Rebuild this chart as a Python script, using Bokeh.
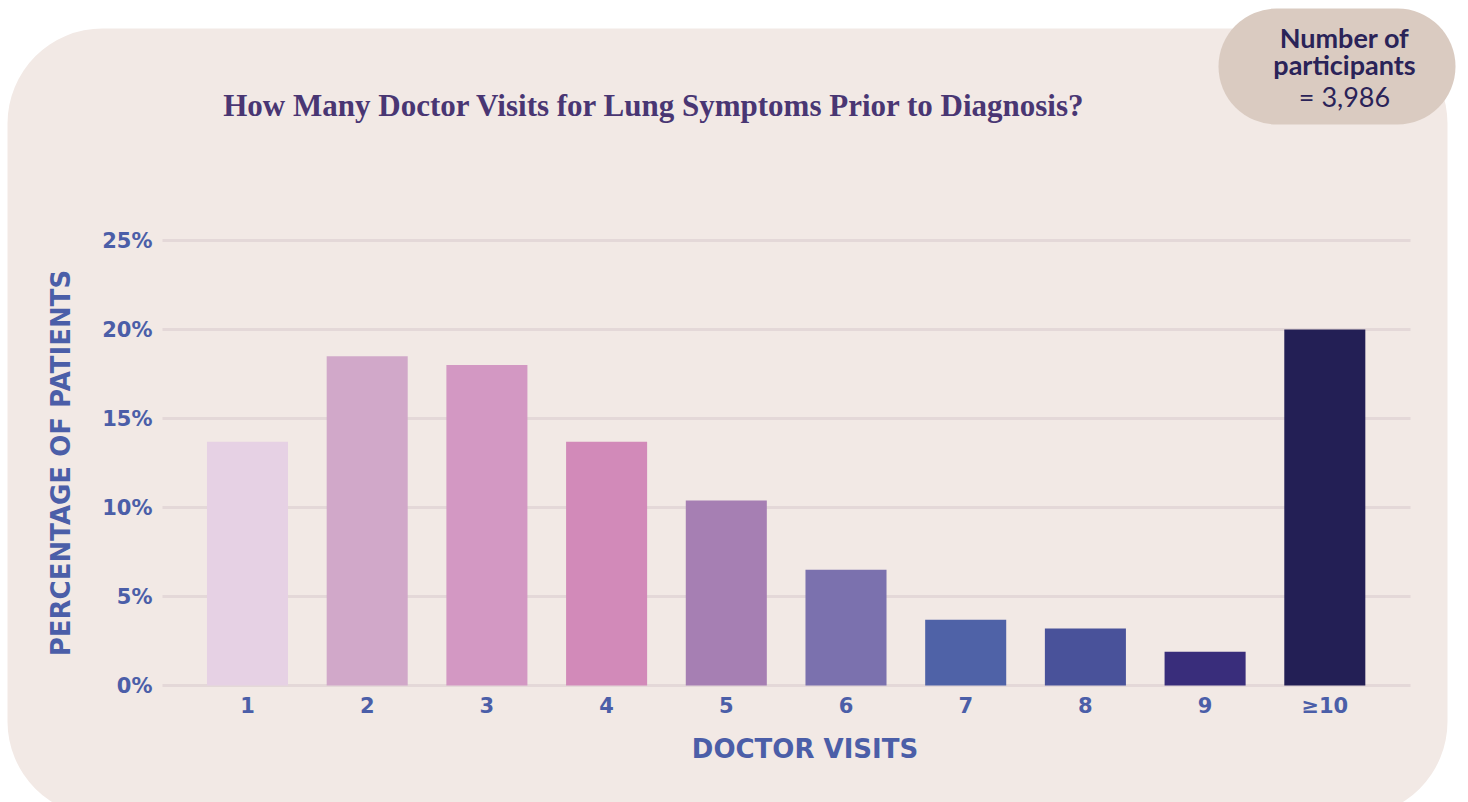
from bokeh.plotting import figure
from bokeh.models import ColumnDataSource, Range1d, FixedTicker, BoxAnnotation, Label, LinearAxis
from bokeh.embed import file_html
from bokeh.resources import INLINE

# ---- data ----
categories = ["1", "2", "3", "4", "5", "6", "7", "8", "9", "≥10"]
percentages = [13.7, 18.5, 18.0, 13.7, 10.4, 6.5, 3.7, 3.2, 1.9, 20.0]
bar_colors = ["#e6d1e4", "#d1a8c9", "#d398c3", "#d28ab9", "#a67fb3",
              "#7b71ae", "#4f62a7", "#49529a", "#392d7b", "#231f55"]
y_ticks = [0, 5, 10, 15, 20, 25]
y_tick_labels = ["0%", "5%", "10%", "15%", "20%", "25%"]
title_text = "How Many Doctor Visits for Lung Symptoms Prior to Diagnosis?"
badge_lines = ["Number of", "participants", "= 3,986"]
x_axis_title = "DOCTOR VISITS"
y_axis_title = "PERCENTAGE OF PATIENTS"

# ---- styles ----
PANEL = "#f2e9e5"
BADGE = "#dacbc1"
AXIS_BLUE = "#4b5ea8"
TITLE_COLOR = "#493673"
BADGE_TEXT = "#2a2358"
GRID = "#e4d8d8"
SANS = "DejaVu Sans"

W, H = 1468, 802
PX_PER_CAT = 119.7          # pixels per category step
PX_PER_PCT = 17.8           # pixels per percentage point
FIRST_CENTER_PX = 247.0     # canvas x of first category centre
ZERO_PX = 685.0             # canvas y of 0 %
GRID_LEFT_PX, GRID_RIGHT_PX = 162.0, 1410.0

x_lo = 1 - FIRST_CENTER_PX / PX_PER_CAT
x_hi = x_lo + W / PX_PER_CAT
y_lo = -(H - ZERO_PX) / PX_PER_PCT
y_hi = ZERO_PX / PX_PER_PCT

positions = list(range(1, len(categories) + 1))
src = ColumnDataSource(dict(x=positions, pct=percentages, color=bar_colors))

p = figure(
    width=W, height=H, title=None,
    x_range=Range1d(x_lo, x_hi), y_range=Range1d(y_lo, y_hi),
    x_axis_location=None, y_axis_location=None,
    output_backend="svg", toolbar_location=None, tools="",
    min_border=0, min_border_left=0, min_border_right=0, min_border_top=0, min_border_bottom=0,
    border_fill_color="white", background_fill_color="white", outline_line_color=None,
)
p.grid.visible = False

# rounded background panel (screen units = canvas px, y up)
p.add_layout(BoxAnnotation(left=7, right=1447, top=H - 28, bottom=H - 816,
                           left_units="screen", right_units="screen", top_units="screen", bottom_units="screen",
                           fill_color=PANEL, fill_alpha=1, line_color=None, border_radius=95, level="image"))
# badge
p.add_layout(BoxAnnotation(left=1218, right=1455, top=H - 8, bottom=H - 124,
                           left_units="screen", right_units="screen", top_units="screen", bottom_units="screen",
                           fill_color=BADGE, fill_alpha=1, line_color=None, border_radius=58, level="image"))

# horizontal grid lines limited to the plotting area
GX0 = 1 - (FIRST_CENTER_PX - GRID_LEFT_PX) / PX_PER_CAT
GX1 = GX0 + (GRID_RIGHT_PX - GRID_LEFT_PX) / PX_PER_CAT
p.segment(x0=GX0, x1=GX1, y0=y_ticks, y1=y_ticks, line_color=GRID, line_width=3, level="underlay")

p.vbar(x="x", top="pct", width=0.677, color="color", line_color=None, source=src)

# axes placed inside the frame
xaxis = LinearAxis(fixed_location=0, bounds=(0.5, 10.82),
                   ticker=FixedTicker(ticks=positions),
                   major_label_overrides=dict(zip(positions, categories)))
yaxis = LinearAxis(fixed_location=GX0, bounds=(0, 25),
                   ticker=FixedTicker(ticks=y_ticks),
                   major_label_overrides=dict(zip(y_ticks, y_tick_labels)))
p.add_layout(xaxis, "below")
p.add_layout(yaxis, "left")
for ax in (xaxis, yaxis):
    ax.axis_line_color = None
    ax.major_tick_line_color = None
    ax.minor_tick_line_color = None
    ax.major_tick_out = 0
    ax.major_tick_in = 0
    ax.minor_tick_out = 0
    ax.minor_tick_in = 0
    ax.major_label_text_color = AXIS_BLUE
    ax.major_label_text_font = SANS
    ax.major_label_text_font_style = "bold"
    ax.major_label_text_font_size = "21px"
    ax.axis_label_text_color = AXIS_BLUE
    ax.axis_label_text_font = SANS
    ax.axis_label_text_font_style = "bold"
    ax.axis_label_text_font_size = "26px"
xaxis.major_label_standoff = 8
yaxis.major_label_standoff = 10
xaxis.axis_label = x_axis_title
yaxis.axis_label = y_axis_title
xaxis.axis_label_standoff = 13
yaxis.axis_label_standoff = 23

# title
p.add_layout(Label(x=654, y=H - 105, x_units="screen", y_units="screen", text=title_text,
                   text_align="center", text_baseline="middle", text_font="Liberation Serif",
                   text_font_style="bold", text_font_size="31px", text_color=TITLE_COLOR))

# badge text
badge_y = [37, 64, 96]
badge_styles = ["bold", "bold", "normal"]
for t, yy, st in zip(badge_lines, badge_y, badge_styles):
    p.add_layout(Label(x=1344, y=H - yy, x_units="screen", y_units="screen", text=t,
                       text_align="center", text_baseline="middle", text_font="Lato",
                       text_font_style=st, text_font_size="27px", text_color=BADGE_TEXT))

open("out.html", "w").write(file_html(p, INLINE))
